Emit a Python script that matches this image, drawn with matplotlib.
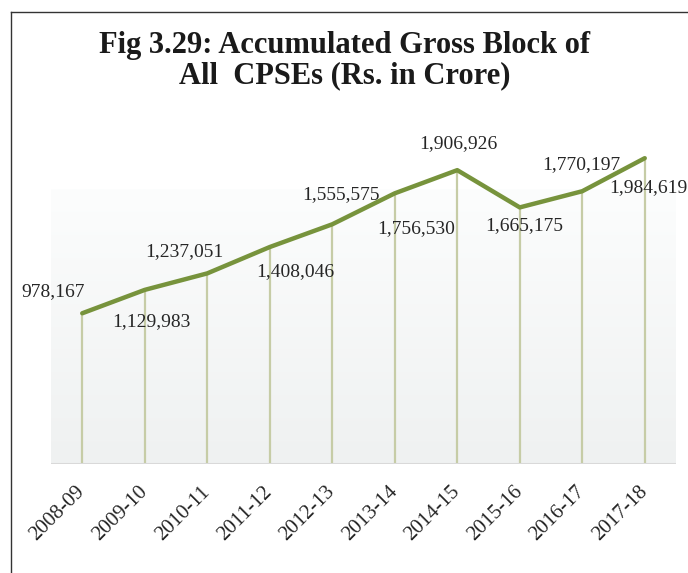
import numpy as np
import matplotlib
matplotlib.use('Agg')
import matplotlib.pyplot as plt
from matplotlib.colors import LinearSegmentedColormap
from matplotlib.lines import Line2D

plt.rcParams['font.family'] = ['Liberation Serif', 'DejaVu Serif']

# Accumulated gross block of all CPSEs, Rs. crore
years = ['2008-09', '2009-10', '2010-11', '2011-12', '2012-13',
         '2013-14', '2014-15', '2015-16', '2016-17', '2017-18']
gross_block = [978167, 1129983, 1237051, 1408046, 1555575,
               1756530, 1906926, 1665175, 1770197, 1984619]

title_lines = ['Fig 3.29: Accumulated Gross Block of', 'All  CPSEs (Rs. in Crore)']

# label placement (pixels from the point) so the numbers clear the line
label_offsets = [(-29, 22), (7, -32), (-23, 22), (26, -25), (9, 30),
                 (21, -35), (1, 27), (4, -18), (-1, 27), (4, -29)]

W, H = 688, 573
fig = plt.figure(figsize=(W / 100, H / 100), dpi=100)
ax = fig.add_axes([51 / W, 109 / H, 625 / W, 339 / H])

x = np.arange(len(years))
ymax = 2200000
ax.set_xlim(-0.5, len(years) - 0.5)
ax.set_ylim(0, ymax)

# soft grey gradient behind the lower part of the plot
grad = np.linspace(0, 1, 256).reshape(-1, 1)
cmap = LinearSegmentedColormap.from_list('bg', ['#eff1f1', '#fcfdfd'])
ax.imshow(grad, cmap=cmap, aspect='auto', origin='lower',
          extent=(-0.5, len(years) - 0.5, 0, 1780000), zorder=0)

# drop lines
ax.vlines(x, 0, gross_block, color='#c6cca6', linewidth=1.6, zorder=1)
ax.plot(x, gross_block, color='#77933c', linewidth=3.2,
        solid_capstyle='round', solid_joinstyle='round', zorder=3)
ax.axhline(0, color='#d9d9d9', linewidth=2.2, zorder=2)

for xi, val, (dx, dy) in zip(x, gross_block, label_offsets):
    ax.annotate(f'{val:,}', (xi, val), xytext=(dx, dy),
                textcoords='offset pixels', ha='center', va='center',
                fontsize=14, color='#262626', annotation_clip=False, zorder=4)

for s in ax.spines.values():
    s.set_visible(False)
ax.set_yticks([])
ax.set_xticks(x)
ax.set_xticklabels(years, rotation=45, ha='right', va='center',
                   rotation_mode='anchor', fontsize=15, color='#262626')
ax.tick_params(axis='x', length=0, pad=18)

for line, base in zip(title_lines, [53, 83]):
    fig.text(345 / W, 1 - base / H, line, ha='center', va='baseline',
             fontsize=22, fontweight='bold', color='#1a1a1a')

# box outline around the figure panel
fig.add_artist(Line2D([11 / W, 1], [1 - 12 / H, 1 - 12 / H],
                      transform=fig.transFigure, color='#333333', linewidth=1))
fig.add_artist(Line2D([11 / W, 11 / W], [0, 1 - 12 / H],
                      transform=fig.transFigure, color='#333333', linewidth=1))

fig.savefig('out.png', dpi=100)
plt.close(fig)
